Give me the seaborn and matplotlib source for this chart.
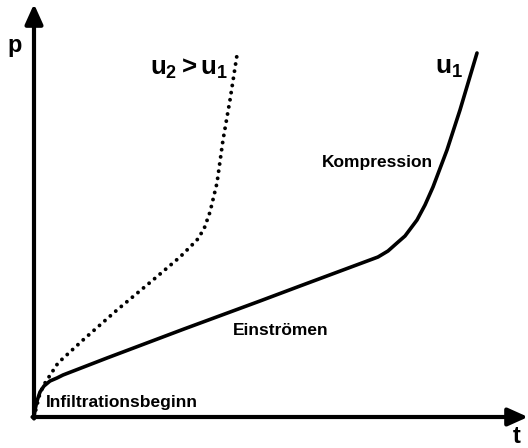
import matplotlib
matplotlib.use("Agg")
import matplotlib.pyplot as plt
import seaborn as sns
import pandas as pd

# Data (t, p) (arbitrary units)
t_u1 = [0, 1, 3, 6, 10, 16, 23, 29, 73, 150, 226, 266, 344, 354, 363, 371, 383, 391, 399, 413, 426, 443]
p_u1 = [0, 7, 16, 25, 31, 36, 39, 42, 59, 88, 116, 131, 160, 166, 174, 181, 197, 212, 230, 267, 307, 364]

t_u2 = [0, 6, 11, 24, 49, 83, 119, 146, 163, 170, 176, 183, 189, 196, 203]
p_u2 = [0, 24, 34, 54, 77, 107, 137, 160, 177, 188, 205, 234, 277, 317, 362]

sns.set_theme(style="white")
plt.rcParams["font.family"] = ["Liberation Sans", "DejaVu Sans"]
plt.rcParams["mathtext.fontset"] = "custom"
plt.rcParams["mathtext.rm"] = "Liberation Sans:bold"
plt.rcParams["mathtext.it"] = "Liberation Sans:bold"
plt.rcParams["mathtext.bf"] = "Liberation Sans:bold"

fig = plt.figure(figsize=(5.28, 4.48), dpi=100)
ax = fig.add_axes([0, 0, 1, 1])
ax.set_xlim(-34, 494)
ax.set_ylim(-31, 417)
ax.axis("off")

df1 = pd.DataFrame({"t": t_u1, "p": p_u1})
df2 = pd.DataFrame({"t": t_u2, "p": p_u2})

sns.lineplot(data=df1, x="t", y="p", ax=ax, color="black", lw=2.6,
             estimator=None, sort=False, solid_joinstyle="round")
sns.lineplot(data=df2, x="t", y="p", ax=ax, color="black", lw=2.8,
             estimator=None, sort=False, linestyle=(0, (0.01, 1.85)),
             dash_capstyle="round")

# axes arrows
arrow = dict(arrowstyle="-|>,head_length=1.0,head_width=0.45", color="black",
             lw=3, shrinkA=0, shrinkB=0)
ax.annotate("", xy=(0, 413), xytext=(0, -1.5), arrowprops=arrow)
ax.annotate("", xy=(494, 0), xytext=(-1.5, 0), arrowprops=arrow)

bold = dict(fontweight="bold", color="black")
ax.text(-19, 372, "p", fontsize=17, ha="center", va="center", **bold)
ax.text(483, -19, "t", fontsize=17, ha="center", va="center", **bold)
ax.text(116, 342, r"$u_2 > u_1$", fontsize=18.5,
        ha="left", va="baseline", **bold)
ax.text(401, 343, r"$u_1$", fontsize=19, ha="left", va="baseline", **bold)
ax.text(288, 255, "Kompression", fontsize=12.5, ha="left", va="center", **bold)
ax.text(199, 87, "Einströmen", fontsize=12.5, ha="left", va="center", **bold)
ax.text(12, 15, "Infiltrationsbeginn", fontsize=12.5, ha="left", va="center", **bold)

fig.savefig("out.png", dpi=100)
